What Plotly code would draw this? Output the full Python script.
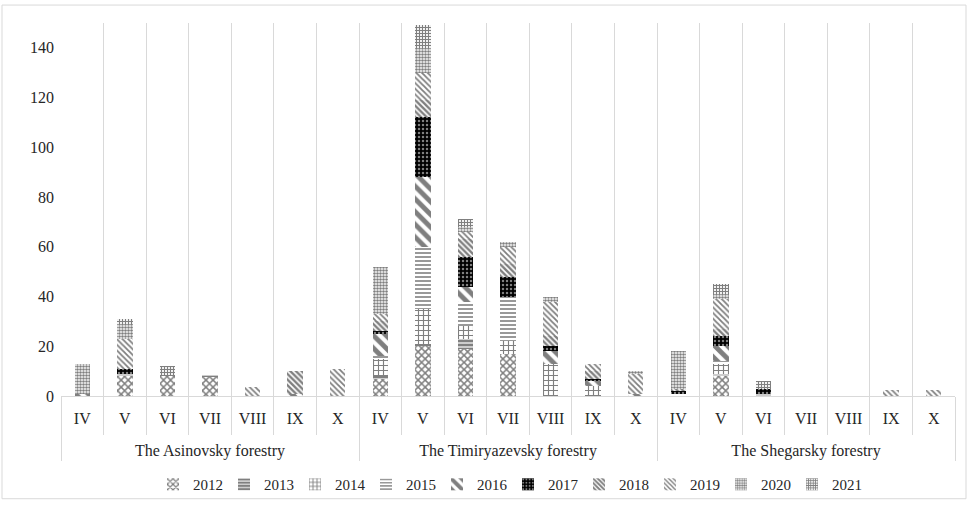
import plotly.graph_objects as go

forestries = ["The Asinovsky forestry", "The Timiryazevsky forestry", "The Shegarsky forestry"]
months = ["IV", "V", "VI", "VII", "VIII", "IX", "X"]
years = ["2012", "2013", "2014", "2015", "2016", "2017", "2018", "2019", "2020", "2021"]

# values per year: Asinovsky IV..X, Timiryazevsky IV..X, Shegarsky IV..X
v2012 = [0, 8, 8, 7.5, 0, 0, 0,   7, 20, 19, 17, 0, 0, 0,   0, 8, 0, 0, 0, 0, 0]
v2013 = [0, 1, 0, 1, 0, 0, 0,     1, 1, 4, 0, 0, 0, 0,      0, 1, 1, 0, 0, 0, 0]
v2014 = [0, 0, 0, 0, 0, 0, 0,     7, 14, 5, 5, 13, 4, 0,    0, 4, 0, 0, 0, 0, 0]
v2015 = [0, 0, 0, 0, 0, 0, 0,     1, 25, 10, 18, 0, 0, 0,   1, 1, 0, 0, 0, 0, 0]
v2016 = [1, 0, 0, 0, 0, 1, 0,     9, 28, 6, 0, 5, 2, 1,     0, 6, 0, 0, 0, 0, 0]
v2017 = [0, 2, 0, 0, 0, 0, 0,     1, 24, 12, 8, 2, 1, 0,    1, 4, 2, 0, 0, 0, 0]
v2018 = [0, 0, 0, 0, 0, 9, 0,     4, 7, 7, 5, 4, 3, 0,      1, 3, 0, 0, 0, 0, 0]
v2019 = [0, 12, 0, 0, 3.5, 0, 11, 3, 11, 3, 7, 14, 3, 8,    0, 12, 0, 0, 0, 2.5, 2.5]
v2020 = [12, 6, 0, 0, 0, 0, 0,    19, 10, 2, 2, 2, 0, 1,    15, 2, 0, 0, 0, 0, 0]
v2021 = [0, 2, 4, 0, 0, 0, 0,     0, 9, 3, 0, 0, 0, 0,      0, 4, 3, 0, 0, 0, 0]
series = [v2012, v2013, v2014, v2015, v2016, v2017, v2018, v2019, v2020, v2021]

# pattern styles per year
patterns = [
    dict(shape="x", size=5, solidity=0.5, fgcolor="black", bgcolor="white"),
    dict(shape="-", size=4, solidity=0.7, fgcolor="black", bgcolor="white"),
    dict(shape="+", size=5, solidity=0.4, fgcolor="black", bgcolor="white"),
    dict(shape="-", size=4, solidity=0.4, fgcolor="black", bgcolor="white"),
    dict(shape="\\", size=9, solidity=0.55, fgcolor="black", bgcolor="white"),
    dict(shape=".", size=4, solidity=0.3, fgcolor="white", bgcolor="black"),
    dict(shape="\\", size=4, solidity=0.6, fgcolor="black", bgcolor="white"),
    dict(shape="\\", size=4, solidity=0.45, fgcolor="black", bgcolor="white"),
    dict(shape=".", size=3, solidity=0.55, fgcolor="black", bgcolor="white"),
    dict(shape="+", size=3, solidity=0.65, fgcolor="black", bgcolor="white"),
]

x_outer = ["<br>" + f for f in forestries for _ in months]
x_inner = [m for _ in forestries for m in months]

fig = go.Figure()
for yr, vals, pat in zip(years, series, patterns):
    fig.add_trace(go.Bar(
        x=[x_outer, x_inner], y=vals, name=yr,
        marker=dict(color="white", line=dict(width=0), pattern=pat),
    ))

font = "Liberation Serif, Times New Roman, serif"
fig.update_layout(
    barmode="stack",
    bargap=0.64,
    width=971, height=512,
    margin=dict(l=61, r=16, t=23, b=115),
    paper_bgcolor="white", plot_bgcolor="white",
    font=dict(family=font, size=16, color="#262626"),
    legend=dict(orientation="h", x=0.5, xanchor="center", y=-0.19, yanchor="top",
                font=dict(family=font, size=15), itemwidth=30, entrywidth=26,
                traceorder="normal", bgcolor="rgba(0,0,0,0)"),
    xaxis=dict(type="multicategory", tickson="boundaries", showgrid=True,
               gridcolor="#d9d9d9", gridwidth=1, ticks="outside", ticklen=38,
               tickcolor="#d9d9d9", showline=True, linecolor="#d9d9d9",
               showdividers=True, dividercolor="#d9d9d9", dividerwidth=1,
               automargin=False, ticklabelstandoff=8,
               tickfont=dict(family=font, size=16, color="#262626")),
    yaxis=dict(range=[0, 150], tickvals=[0, 20, 40, 60, 80, 100, 120, 140],
               showgrid=False, zeroline=False, showline=False, automargin=False,
               ticklabelstandoff=6,
               tickfont=dict(family=font, size=16, color="#262626")),
    shapes=[dict(type="rect", xref="paper", yref="paper",
                 x0=-59/894, x1=(966-61)/894, y0=-(500-397)/374, y1=(397-5)/374,
                 line=dict(color="#d9d9d9", width=1), fillcolor="rgba(0,0,0,0)", layer="below")],
)

fig.write_html("out.html", config={"displayModeBar": False},
               post_script="document.body.style.margin='0px';document.body.style.overflow='hidden';")
